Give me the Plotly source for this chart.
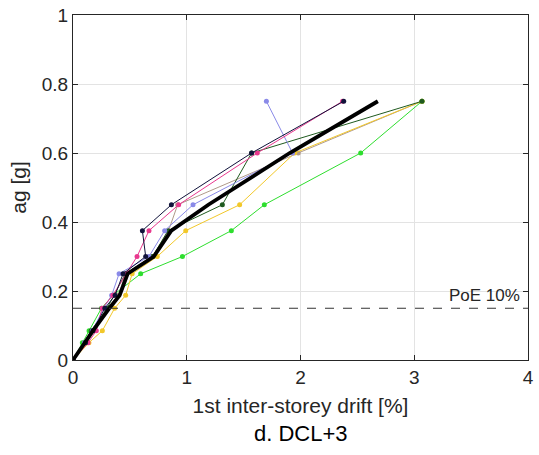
import plotly.graph_objects as go

# Intensity levels (ag [g]) applied in the incremental analyses
ag_levels = [0, 0.05, 0.085, 0.15, 0.1875, 0.25, 0.30, 0.375, 0.45, 0.60, 0.75]

# First inter-storey drift [%] per record, one value per intensity level
drift_rec1 = [0, 0.11, 0.176, 0.28, 0.37, 0.44, 0.639, 0.61, 0.865, 1.57, 2.38]
drift_rec2 = [0, 0.132, 0.205, 0.255, 0.35, 0.47, 0.563, 0.668, 0.929, 1.62, 2.37]
drift_rec3 = [0, 0.10, 0.17, 0.27, 0.34, 0.405, 0.668, 0.806, 1.055, 1.93, 1.70]
drift_rec4 = [0, 0.10, 0.16, 0.30, 0.36, 0.46, 0.70, 0.835, 1.313, 1.57, 3.068]
drift_rec5 = [0, 0.12, 0.19, 0.30, 0.40, 0.46, 0.70, 0.84, 0.92, 1.98, 3.068]
drift_rec6 = [0, 0.14, 0.258, 0.366, 0.463, 0.52, 0.741, 0.991, 1.465, 1.949, 3.068]
drift_rec7 = [0, 0.082, 0.141, 0.25, 0.352, 0.595, 0.962, 1.392, 1.682, 2.529, 3.068]

# Mean response curve
drift_mean = [0, 0.10, 0.176, 0.32, 0.41, 0.48, 0.71, 0.864, 1.19, 1.905, 2.68]

poe_level = 0.15

FONT = "Liberation Sans, Arial, sans-serif"

records = [
    (drift_rec5, "#b09a8a"),
    (drift_rec7, "#2ede2e"),
    (drift_rec6, "#f2c82a"),
    (drift_rec4, "#1f5a1f"),
    (drift_rec3, "#8a8ae8"),
    (drift_rec2, "#e8388e"),
    (drift_rec1, "#10123a"),
]

fig = go.Figure()

for drift, color in records:
    fig.add_trace(go.Scatter(
        x=drift, y=ag_levels, mode="lines+markers",
        line=dict(color=color, width=1),
        marker=dict(color=color, size=5),
        showlegend=False,
    ))

fig.add_trace(go.Scatter(
    x=drift_mean, y=ag_levels, mode="lines",
    line=dict(color="black", width=3.8),
    showlegend=False,
))

# Design level (probability of exceedance 10%)
fig.add_trace(go.Scatter(
    x=[0, 4], y=[poe_level, poe_level], mode="lines",
    line=dict(color="#333333", width=1, dash="dash"),
    showlegend=False,
))

fig.add_annotation(
    x=3.95, y=poe_level, xref="x", yref="y",
    text="PoE 10%", showarrow=False,
    xanchor="right", yanchor="bottom", yshift=1,
    font=dict(family=FONT, size=17, color="#262626"),
)

fig.add_annotation(
    x=0.5, y=-0.212, xref="paper", yref="paper",
    text="d. DCL+3", showarrow=False,
    xanchor="center", yanchor="middle",
    font=dict(family=FONT, size=22, color="black"),
)

axis_common = dict(
    showgrid=True, gridcolor="#e3e3e3", gridwidth=1,
    showline=True, linecolor="#262626", linewidth=1, mirror="ticks",
    ticks="inside", ticklen=5, tickcolor="#262626",
    zeroline=False, automargin=False,
    tickfont=dict(family=FONT, size=19, color="#262626"),
)

fig.update_xaxes(
    range=[0, 4], tickvals=[0, 1, 2, 3, 4],
    title=dict(text="1st inter-storey drift [%]", standoff=11,
               font=dict(family=FONT, size=21, color="#262626")),
    **axis_common,
)
fig.update_yaxes(
    range=[0, 1], tickvals=[0, 0.2, 0.4, 0.6, 0.8, 1],
    ticktext=["0", "0.2", "0.4", "0.6", "0.8", "1"],
    title=dict(text="ag [g]", standoff=9,
               font=dict(family=FONT, size=21, color="#262626")),
    **axis_common,
)

fig.update_layout(
    width=539, height=455,
    margin=dict(l=73, r=11, t=15, b=95),
    paper_bgcolor="white", plot_bgcolor="white",
)

fig.write_html("out.html")
